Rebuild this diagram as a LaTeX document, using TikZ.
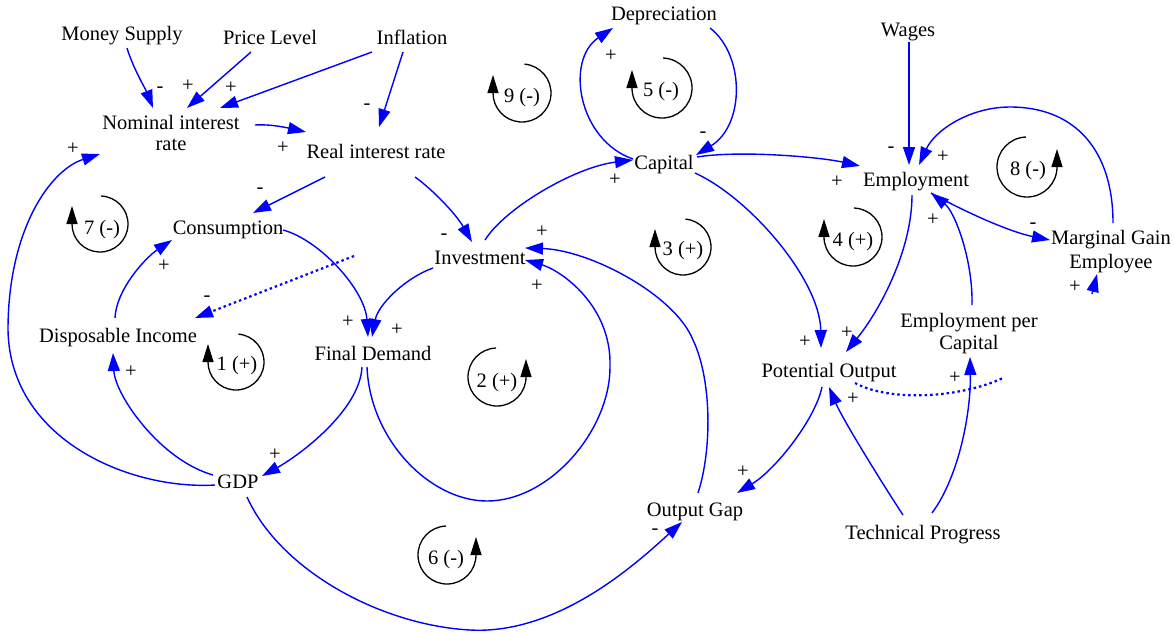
\documentclass[tikz,border=0pt]{standalone}
\usepackage{fontspec}
\setmainfont{Liberation Serif}
\usetikzlibrary{arrows.meta}
\definecolor{lnkblue}{RGB}{0,0,255}
\begin{document}
\begin{tikzpicture}[x=1pt,y=-1pt,
  lbl/.style={font=\fontsize{20.5}{22}\selectfont, text height=14pt, text depth=0pt, inner sep=0pt},
  lbltwo/.style={font=\fontsize{20.5}{22}\selectfont, align=center, inner sep=0pt},
  sgn/.style={font=\fontsize{20.5}{22}\selectfont, inner sep=0pt},
  lnk/.style={draw=lnkblue, line width=1.4pt, -{Triangle[length=18pt,width=12pt]}},
  dotl/.style={draw=lnkblue, line width=2.2pt, dash pattern=on 2.5pt off 3pt},
  lpl/.style={draw=black, line width=1.3pt, -{Triangle[length=18pt,width=11pt]}}]
\useasboundingbox (0,0) rectangle (1174,633);

% variables
\node[lbl] (ms)  at (122,33)  {Money Supply};
\node[lbl] (pl)  at (270,37)  {Price Level};
\node[lbl] (inf) at (412,37)  {Inflation};
\node[lbltwo] (nir) at (171,133) {Nominal interest\\[-1pt]rate};
\node[lbl] (rir) at (376,151) {Real interest rate};
\node[lbl] (dep) at (664,13)  {Depreciation};
\node[lbl] (wag) at (908,29)  {Wages};
\node[lbl] (cap) at (664,162) {Capital};
\node[lbl] (emp) at (916,179) {Employment};
\node[lbl] (con) at (228,227) {Consumption};
\node[lbl] (inv) at (480,257) {Investment};
\node[lbltwo] (mge) at (1111,252) {Marginal Gain\\[2pt]Employee};
\node[lbl] (dpi) at (118,335) {Disposable Income};
\node[lbl] (fd)  at (373,353) {Final Demand};
\node[lbltwo] (epc) at (969,334) {Employment per\\Capital};
\node[lbl] (po)  at (829,370) {Potential Output};
\node[lbl] (gdp) at (238,481) {GDP};
\node[lbl] (og)  at (695,509) {Output Gap};
\node[lbl] (tp)  at (923,532) {Technical Progress};

% links
\draw[lnk] ([shift={(5,15)}]ms.center) .. controls (133,68) and (146,90) .. ([shift={(-18,-25)}]nir.center);
\draw[lnk] ([shift={(-19,15)}]pl.center) -- ([shift={(16,-25)}]nir.center);
\draw[lnk] ([shift={(-40,15)}]inf.center) -- ([shift={(49,-25)}]nir.center);
\draw[lnk] ([shift={(-9,15)}]inf.center) -- ([shift={(3,-24)}]rir.center);
\draw[lnk] ([shift={(84,-8)}]nir.center) .. controls (272,124) and (288,128) .. ([shift={(-70,-19)}]rir.center);
\draw[lnk] ([shift={(-51,26)}]rir.center) -- ([shift={(25,-14)}]con.center);
\draw[lnk] ([shift={(39,26)}]rir.center) .. controls (432,189) and (456,214) .. ([shift={(-8,-15)}]inv.center);
\draw[lnk] ([shift={(5,-17)}]inv.center) .. controls (505,208) and (575,167) .. ([shift={(-31,-2)}]cap.center);
\draw[lnk] ([shift={(-31,-3)}]cap.center) .. controls (578,140) and (565,60) .. ([shift={(-51,15)}]dep.center);
\draw[lnk] ([shift={(46,15)}]dep.center) .. controls (745,55) and (745,125) .. ([shift={(32,-7)}]cap.center);
\draw[lnk] ([shift={(33,-5)}]cap.center) .. controls (740,150) and (820,157) .. ([shift={(-56,-13)}]emp.center);
\draw[lnk] ([shift={(31,11)}]cap.center) .. controls (750,198) and (820,280) .. ([shift={(-8,-22)}]po.center);
\draw[lnk] ([shift={(1,13)}]wag.center) -- ([shift={(-7,-14)}]emp.center);
\draw[lnk] ([shift={(2,-29)}]mge.center) .. controls (1113,150) and (1075,107) .. (1010,107) .. controls (970,107) and (935,130) .. ([shift={(3,-14)}]emp.center);
\draw[lnk] ([shift={(15,14)}]emp.center) .. controls (965,212) and (1010,232) .. ([shift={(-61,-12)}]mge.center);
\draw[lnk] ([shift={(3,-29)}]epc.center) .. controls (973,260) and (955,212) .. ([shift={(15,14)}]emp.center);
\draw[lnk] ([shift={(-4,16)}]emp.center) .. controls (912,250) and (880,310) .. ([shift={(17,-18)}]po.center);
\draw[lnk] ([shift={(-7,17)}]po.center) .. controls (815,420) and (775,470) .. ([shift={(42,-16)}]og.center);
\draw[lnk] ([shift={(-20,-17)}]tp.center) .. controls (880,480) and (842,418) .. ([shift={(0,17)}]po.center);
\draw[lnk] ([shift={(9,-19)}]tp.center) .. controls (960,475) and (971,410) .. ([shift={(1,23)}]epc.center);
\coordinate (dd1) at (1003,378);
\draw[dotl] ([shift={(26,13)}]po.center) .. controls (890,402) and (960,398) .. (dd1);
\coordinate (dd2) at (354,256);
\draw[dotl, -{Triangle[length=18pt,width=12pt]}] (dd2) -- ([shift={(77,-17)}]dpi.center);
\draw[lnk] ([shift={(55,3)}]con.center) .. controls (320,240) and (365,290) .. ([shift={(-5,-16)}]fd.center);
\draw[lnk] ([shift={(-47,11)}]inv.center) .. controls (405,278) and (378,305) .. ([shift={(-1,-16)}]fd.center);
\draw[lnk] ([shift={(-11,14)}]fd.center) .. controls (360,410) and (300,455) .. ([shift={(24,-5)}]gdp.center);
\draw[lnk] ([shift={(-25,-6)}]gdp.center) .. controls (160,460) and (115,395) .. ([shift={(-5,18)}]dpi.center);
\draw[lnk] ([shift={(-3,-17)}]dpi.center) .. controls (116,290) and (145,258) .. ([shift={(-56,13)}]con.center);
\draw[lnk] ([shift={(-23,4)}]gdp.center) .. controls (130,490) and (10,440) .. (8,330) .. controls (8,230) and (50,170) .. ([shift={(-71,21)}]nir.center);
\draw[lnk] ([shift={(-6,14)}]fd.center) .. controls (370,440) and (430,501) .. (487,501) .. controls (550,501) and (610,430) .. (610,367) .. controls (612,305) and (560,270) .. ([shift={(45,3)}]inv.center);
\draw[lnk] ([shift={(3,-16)}]og.center) .. controls (712,450) and (712,380) .. (693,340) .. controls (675,295) and (590,250) .. ([shift={(45,-9)}]inv.center);
\draw[lnk] ([shift={(9,16)}]gdp.center) .. controls (280,570) and (380,625) .. (470,630) .. controls (560,635) and (640,560) .. ([shift={(-13,13)}]og.center);
\coordinate (dd3) at (1092,294);
\draw[lnk] (dd3) -- ([shift={(-14,22)}]mge.center);

% polarity signs
\foreach \x/\y/\t [count=\k] in {160/90/-, 188/86/+, 231/88/+, 367/107/-, 283/148/+, 260/191/-,
  444/237/-, 615/180/+, 611/56/+, 703/135/-, 837/182/+, 805/342/+, 891/150/-, 943/157/+,
  1033/226/-, 933/220/+, 847/333/+, 743/472/+, 853/399/+, 955/378/+, 1075/287/+,
  73/149/+, 164/266/+, 207/299/-, 348/322/+, 397/330/+, 275/455/+, 131/372/+,
  542/232/+, 537/286/+, 655/532/-}
  \node[sgn] (s\k) at (\x,\y) {\t};

% loop markers
\node[lbl] (L1) at (237,363) {1 (+)};
\node[lbl] (L2) at (497,380) {2 (+)};
\node[lbl] (L3) at (683,248) {3 (+)};
\node[lbl] (L4) at (853,239) {4 (+)};
\node[lbl] (L5) at (661,89)  {5 (-)};
\node[lbl] (L6) at (446,557) {6 (-)};
\node[lbl] (L7) at (102,227) {7 (-)};
\node[lbl] (L8) at (1028,168) {8 (-)};
\node[lbl] (L9) at (522,95)  {9 (-)};
% clockwise
\draw[lpl] (522,93)  ++(-85:29) arc[start angle=-85, end angle=180, radius=29] -- ++(0,-18);
\draw[lpl] (662,88)  ++(-88:30) arc[start angle=-88, end angle=180, radius=30] -- ++(0,-18);
\draw[lpl] (100,224) ++(-88:28) arc[start angle=-88, end angle=180, radius=28] -- ++(0,-18);
\draw[lpl] (236,362) ++(-85:28) arc[start angle=-85, end angle=180, radius=28] -- ++(0,-18);
\draw[lpl] (683,247) ++(-85:28) arc[start angle=-85, end angle=180, radius=28] -- ++(0,-18);
\draw[lpl] (853,237) ++(-88:29) arc[start angle=-88, end angle=180, radius=29] -- ++(0,-18);
% counter-clockwise
\draw[lpl] (497,377) ++(-92:29) arc[start angle=-92, end angle=-360, radius=29] -- ++(0,-18);
\draw[lpl] (447,555) ++(-92:29) arc[start angle=-92, end angle=-360, radius=29] -- ++(0,-18);
\draw[lpl] (1027,167) ++(-92:30) arc[start angle=-92, end angle=-360, radius=30] -- ++(0,-18);
\end{tikzpicture}
\end{document}
